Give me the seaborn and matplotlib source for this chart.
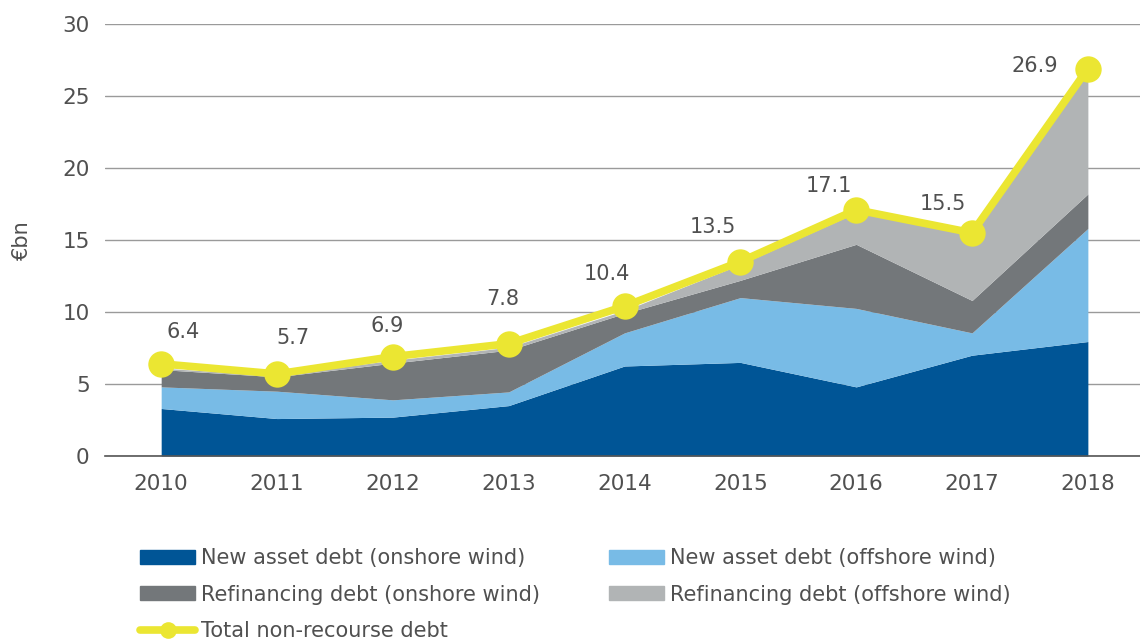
import matplotlib
matplotlib.use("Agg")
import matplotlib.pyplot as plt
import seaborn as sns
import pandas as pd
import numpy as np
from matplotlib.patches import Patch
from matplotlib.lines import Line2D

years = ["2010", "2011", "2012", "2013", "2014", "2015", "2016", "2017", "2018"]
new_onshore = [3.3, 2.6, 2.7, 3.5, 6.25, 6.5, 4.8, 7.0, 7.95]
new_offshore = [1.5, 1.9, 1.2, 0.95, 2.3, 4.5, 5.45, 1.55, 7.85]
refin_onshore = [1.2, 1.0, 2.55, 2.9, 1.35, 1.2, 4.45, 2.25, 2.4]
refin_offshore = [0.1, 0.1, 0.2, 0.2, 0.2, 1.1, 2.2, 4.9, 8.7]
total = [6.4, 5.7, 6.9, 7.8, 10.4, 13.5, 17.1, 15.5, 26.9]

series_labels = ["New asset debt (onshore wind)", "New asset debt (offshore wind)",
                 "Refinancing debt (onshore wind)", "Refinancing debt (offshore wind)"]
total_label = "Total non-recourse debt"
colors = ["#005596", "#78bbe6", "#73777a", "#b1b4b5"]
yellow = "#ebe632"
text_color = "#505050"

sns.set_theme(style="white")
plt.rcParams['font.family'] = ['DejaVu Sans']

fig = plt.figure(figsize=(11.4, 6.44), dpi=100)
ax = fig.add_axes([105/1140, 1-456/644, 1035/1140, (456-24)/644])

x = np.arange(len(years))
ax.stackplot(x, new_onshore, new_offshore, refin_onshore, refin_offshore,
             colors=colors, linewidth=0, zorder=2)

df = pd.DataFrame({"x": x, "total": total})
sns.lineplot(data=df, x="x", y="total", ax=ax, color=yellow, linewidth=5.5,
             marker="o", markersize=19, markeredgewidth=0, zorder=4)

offsets = [(16, 23), (11.5, 26), (-4, 22), (-4, 32), (-13, 23), (-20, 25),
           (-20, 17), (-21, 21), (-38, 2)]
for xi, v, off in zip(x, total, offsets):
    ax.annotate(f"{v}", (xi, v), xytext=off, textcoords="offset points",
                ha="center", va="center", fontsize=15, color=text_color, zorder=5)

ax.set_xlim(-0.485, 8.45)
ax.set_ylim(0, 30)
ax.set_yticks(range(0, 31, 5))
ax.set_xticks(x)
ax.set_xticklabels(years)
ax.yaxis.grid(True, color="#9a9a9a", linewidth=1)
ax.set_axisbelow(True)
for s in ["top", "right", "left"]:
    ax.spines[s].set_visible(False)
ax.spines["bottom"].set_color("#555555")
ax.spines["bottom"].set_linewidth(1.2)
ax.tick_params(axis="both", length=0, labelsize=15.5, colors=text_color)
ax.tick_params(axis="x", pad=13)
ax.tick_params(axis="y", pad=11)
ax.set_xlabel("")
ax.set_ylabel("€bn", fontsize=15, color=text_color)
ax.yaxis.set_label_coords(-0.071, 0.5)

handles = [Patch(color=c, label=l) for c, l in zip(colors, series_labels)]
line_handle = Line2D([], [], color=yellow, linewidth=5.5, marker="o", markersize=12,
                     markeredgewidth=0, label=total_label)

leg_kw = dict(loc="upper left", frameon=False, fontsize=15, labelcolor=text_color,
              handlelength=2.65, handleheight=0.65, handletextpad=0.3,
              labelspacing=0.8, borderpad=0, borderaxespad=0)
col1 = [handles[0], handles[2], line_handle]
col2 = [handles[1], handles[3]]
fig.legend(handles=col1, labels=[h.get_label() for h in col1],
           bbox_to_anchor=(140/1140, 1-548/644), **leg_kw)
fig.legend(handles=col2, labels=[h.get_label() for h in col2],
           bbox_to_anchor=(609/1140, 1-548/644), **leg_kw)

fig.savefig("out.png", dpi=100)
